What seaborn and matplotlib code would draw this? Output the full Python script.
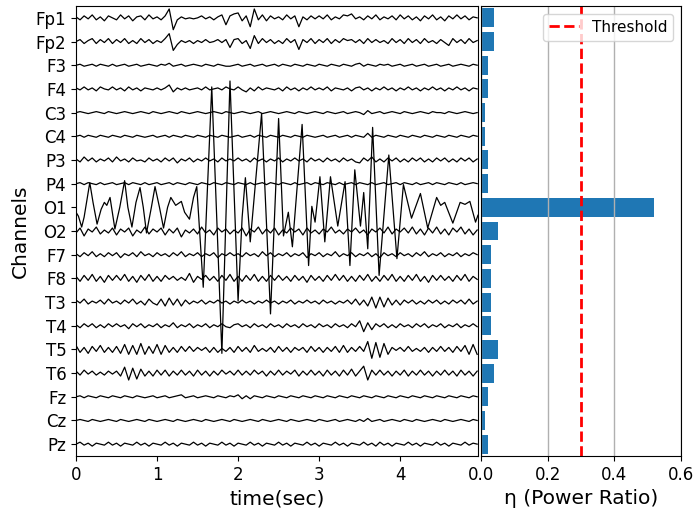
import numpy as np
import pandas as pd
import matplotlib
matplotlib.use("Agg")
import matplotlib.pyplot as plt
import seaborn as sns

# ---------------- data ----------------
channels = ["Fp1", "Fp2", "F3", "F4", "C3", "C4", "P3", "P4", "O1", "O2",
            "F7", "F8", "T3", "T4", "T5", "T6", "Fz", "Cz", "Pz"]
power_ratio = [0.04, 0.04, 0.02, 0.02, 0.012, 0.012, 0.02, 0.02, 0.52, 0.05,
               0.03, 0.03, 0.03, 0.03, 0.05, 0.04, 0.02, 0.012, 0.02]
threshold = 0.3
xticks_time = [0, 1, 2, 3, 4]
xticks_ratio = [0.0, 0.2, 0.4, 0.6]

sample_step = 0.05  # sec between samples of the regular traces

fp1 = [1,-2,2,-1,3,-2,1,-3,2,0, -2,3,-1,2,-3,1,2,-2,3,-1, 1,-2,2,9,-12,-2,1,-1,0,-1,
       0,2,-1,1,-2,1,3,-7,2,4, 5,-3,2,-9,9,-2,3,-3,2,-1, 1,-2,3,-1,2,-9,1,-2,2,-1,
       2,-1,3,-2,1,-1,3,2,4,-1, 1,-2,2,-1,3,-2,1,-1,2,-2, 3,-1,2,-2,1,-3,2,-1,3,-2,
       1,-3,2,-1,3,-1,2,-2,1,0]
fp2 = [0,2,-2,1,3,-2,2,-1,3,-2, 2,-1,3,-2,1,-2,3,-1,2,-2, 1,-1,3,8,-9,-3,1,-1,1,-2,
       1,-1,2,-1,0,2,-1,2,-6,2, 3,-2,1,-7,6,-2,3,-1,2,-2, 1,-2,3,-1,2,-8,2,-1,3,-2,
       2,-1,3,-2,2,-1,3,1,2,-1, 2,-2,3,-1,2,-1,1,-2,3,-1, 2,-2,3,-1,2,-2,3,-1,1,-2,
       2,-1,-4,3,-1,2,-2,3,-1,1]
f3 = [0,1,-1,0,1,-1,1,0,-1,1, -1,0,1,-1,0,1,-1,0,1,0, -1,1,0,2,-1,0,1,-1,0,1,
      0,-1,1,0,-1,1,0,-1,-1,0, 1,-1,0,1,-1,0,1,-1,0,1, -1,1,0,-1,1,0,-1,1,0,-1,
      1,0,-1,1,0,-1,1,0,-1,1, 2,-1,1,0,-1,1,0,1,-1,0, 1,-1,0,1,-1,0,1,-1,0,1,
      -1,0,1,-1,0,1,0,-1,1,0]
f4 = [1,-1,2,-1,1,-2,2,0,-1,2, -1,1,-2,2,-1,1,-2,1,0,-1, 1,-1,1,4,-3,1,-1,1,-1,0,
      1,-1,2,-1,0,1,-1,2,0,-1, 2,-1,-3,1,-2,2,-1,1,0,-1, 1,-2,2,-1,1,-2,1,-1,2,-1,
      1,-1,2,-2,1,0,-1,1,-2,1, 2,-1,1,-2,1,-1,2,-1,1,-2, 1,-1,2,-1,1,-2,1,-1,2,-1,
      1,-2,1,-1,2,-1,1,-2,1,0]
c3 = [0,1,0,-1,0,1,0,-1,1,0, -1,0,1,0,-1,0,1,0,-1,1, 0,-1,0,1,0,-1,1,0,-1,0,
      1,0,-1,0,1,0,-1,1,0,-1, 0,1,0,-1,0,1,-1,0,1,0, -1,0,1,0,-1,1,0,-1,0,1,
      0,-1,1,0,-1,0,1,-1,0,1, 0,-2,2,-1,0,1,-1,0,1,0, -1,1,0,-1,0,1,0,-1,1,0,
      0,-1,1,0,-1,0,1,0,-1,0]
c4 = [0,1,-1,1,0,-1,1,0,-1,1, 0,-1,1,0,-1,1,0,-1,0,1, -1,0,1,-1,1,0,-1,1,0,-1,
      1,0,-1,1,0,-1,1,0,-1,0, 1,-1,0,1,-1,1,0,-1,1,0, -1,1,0,-1,1,0,-1,1,0,-1,
      0,1,-1,0,1,-1,0,1,-1,1, 0,-1,3,-1,1,0,-1,1,0,-1, 1,0,-1,1,0,-1,1,0,-1,1,
      0,-1,1,0,-1,1,0,-1,1,0]
p3 = [1,-2,3,-1,2,-2,1,-1,2,-2, 3,-1,1,-2,2,-1,0,-2,2,-1, 1,-2,2,-1,2,-3,1,-1,2,-2,
      1,-1,2,-1,1,-2,2,-1,1,-1, 2,-1,1,-2,2,-1,1,-2,1,-1, 2,-2,1,-1,2,-1,1,-2,2,-1,
      1,-2,2,-1,1,-2,2,-1,1,-2, -3,2,-1,3,-2,1,-2,2,-1,2, -2,1,-2,2,-1,2,-2,1,-2,2,
      -1,2,-2,1,-2,2,-1,2,-2,1]
p4 = [0,1,-1,1,0,-1,1,-1,0,1, -1,0,1,-1,1,0,-1,1,-1,0, 1,-1,0,1,-1,1,0,-1,1,0,
      -1,1,0,-1,1,0,-1,1,0,-1, 1,0,-1,1,-1,0,1,-1,1,0, -1,1,0,-1,1,-1,0,1,-1,1,
      0,-1,1,0,-1,1,-1,0,1,-1, 1,0,-1,1,-1,0,1,-1,0,1, -1,1,0,-1,1,-1,0,1,-1,1,
      0,-1,1,0,-1,1,-1,0,1,0]
o2 = [-2,3,-5,2,-1,4,-3,1,-2,3, -4,2,-1,3,-5,1,-2,4,-3,2, -1,3,-4,2,-2,3,-6,1,-2,2,
      -3,4,-2,1,-4,3,-1,2,-3,1, -2,3,-5,2,-1,4,-3,2,-2,3, -4,1,-2,3,-1,2,-4,3,-2,1,
      -3,2,-1,4,-2,1,-3,2,-1,3, -2,1,-4,2,-1,3,-2,4,-3,2, -1,3,-2,4,-3,2,-4,3,-2,4,
      -3,2,-4,3,-1,4,-3,2,-4,1]
f7 = [1,-2,2,-1,3,-2,1,-2,2,-1, 2,-3,1,-1,2,-2,3,-1,1,-2, 2,-1,1,-2,2,-1,3,-2,1,-1,
      2,-2,1,-1,2,-3,1,-1,2,-1, 1,-2,2,-1,1,-2,3,-1,2,-2, 1,-1,2,-2,1,-1,2,-3,1,-1,
      2,-2,1,-1,3,-2,1,-1,2,-2, 1,-1,2,-2,1,-3,2,-1,1,-2, 2,-1,1,-2,2,-1,3,-2,1,-1,
      2,-2,1,-1,2,-2,1,-1,2,0]
f8 = [2,-3,3,-2,4,-3,2,-4,3,-2, 3,-2,4,-3,2,-4,3,-2,4,-3, 2,-3,3,-1,2,-2,1,-2,5,-4,
      2,-1,3,-2,2,-3,3,-2,4,-3, 2,-3,3,-2,4,-3,2,-3,3,-2, 3,-2,2,-3,3,-2,2,-4,3,-2,
      2,-3,3,-2,4,-2,3,-3,2,-3, 3,-2,4,-3,2,-3,3,-2,4,-3, 2,-3,3,-2,4,-3,2,-4,3,-2,
      3,-2,2,-3,3,-2,4,-3,2,-1]
t3 = [2,-1,3,-2,1,-1,2,-2,3,-1, 1,-2,2,-1,3,-2,1,-3,3,-1, -3,3,-4,4,-3,3,-4,2,-2,1,
      -1,2,-2,1,-1,2,-1,1,-2,1, -1,2,-1,1,-2,1,-1,2,-1,1, -2,1,-1,2,-2,1,-1,2,-1,1,
      -2,2,-1,1,-2,1,-1,2,-2,3, -3,2,-4,5,-6,5,-5,4,-3,2, -3,2,-1,2,-2,1,-2,2,-1,2,
      -2,1,-2,2,-1,2,-2,3,-2,1]
t4 = [1,-2,2,-1,2,-2,1,-2,2,-1, 2,-1,1,-3,2,-1,2,-2,1,-1, 2,-2,1,-1,3,-2,1,-1,2,-2,
      1,-1,2,-2,1,-1,2,-1,-2,1, 2,-1,1,-2,2,-1,1,-2,2,-1, 1,-2,2,-1,1,-2,2,-1,1,-2,
      2,-1,1,-2,2,-1,1,-2,2,-1, 5,-6,3,-4,2,-1,2,-2,1,-2, 2,-1,1,-2,2,-1,2,-2,1,-1,
      2,-2,1,-1,2,-2,1,-1,2,-1]
t5 = [4,-3,2,-4,3,-2,4,-3,2,-3, 3,-4,5,-5,4,-5,6,-5,3,-4, 5,-5,4,-3,2,-3,3,-2,3,-2,
      2,-1,2,-3,2,-3,1,-2,2,-3, 3,-2,2,-3,4,-2,1,-2,2,-3, 3,-2,2,-3,2,-1,2,-3,3,-2,
      2,-3,2,-2,3,-3,4,-3,2,-2, 3,-2,8,-9,7,-8,6,-5,2,-1, 2,-2,3,-2,1,-2,2,-3,2,-2,
      3,-2,2,-3,3,-2,4,-5,5,-5]
t6 = [2,-2,3,-1,2,-2,1,-2,2,-1, 2,-3,6,-7,5,-6,4,-3,2,-3, 3,-2,3,-3,2,-2,3,-2,2,-3,
      3,-2,2,-3,2,-2,3,-1,2,-2, 3,-2,2,-2,3,-1,2,-3,2,-2, 3,-2,2,-1,3,-3,2,-2,3,-2,
      2,-3,3,-2,2,-3,3,-2,4,-3, 2,7,-7,3,-2,3,-2,2,-3,2, -2,3,-3,2,-2,3,-2,2,-3,2,
      -2,3,-2,2,-3,3,-2,2,-3,2]
fz = [0,1,-1,1,0,-1,1,0,-1,1, 0,-1,1,0,-1,1,0,-1,0,1, -1,0,1,-1,0,1,2,-1,0,1,
      -1,0,1,0,-1,1,0,-1,1,0, 2,-2,1,-2,1,0,-1,1,0,-1, 1,0,-1,1,0,-1,1,0,-1,1,
      0,-1,1,0,-1,1,0,-1,1,0, -1,1,0,-1,1,0,-1,1,0,-1, 1,0,-1,1,0,-1,1,0,-1,1,
      0,-1,1,0,-1,1,0,-1,1,0]
cz = [0,1,0,-1,1,0,-1,0,1,0, -1,1,0,-1,0,1,0,-1,1,0, -1,0,1,0,-1,1,0,-1,0,1,
      0,-1,1,0,-1,0,1,0,-1,1, 0,-1,0,1,0,-1,1,0,-1,0, 1,0,-1,1,0,-1,0,1,0,-1,
      1,0,-1,0,1,-1,0,1,0,-1, 1,-1,2,-1,0,1,-1,0,1,0, -1,1,0,-1,1,0,-1,0,1,0,
      -1,1,0,-1,0,1,0,-1,1,0]
pz = [0,2,-1,1,-2,1,0,-1,2,-1, 1,-2,1,0,-1,2,-1,1,-2,1, 0,-1,2,-1,1,-2,1,0,-1,2,
      -1,1,-2,1,0,-1,2,-1,1,-2, 1,0,-1,2,-1,1,-2,1,0,-1, 2,-1,1,-2,1,0,-1,2,-1,1,
      -2,1,0,-1,2,-1,1,-2,1,0, -1,2,-1,1,-2,2,-1,1,-2,1, 0,-1,2,-1,1,-2,1,0,-1,2,
      -1,1,-2,1,0,-1,2,-1,1,0]

# O1: read at its peaks and troughs (time in sec, amplitude)
o1_t = [0.00, 0.03, 0.07, 0.10, 0.17, 0.21, 0.26, 0.31, 0.35, 0.38, 0.42, 0.48,
        0.54, 0.60, 0.64, 0.69, 0.74, 0.79, 0.83, 0.87, 0.93, 0.975, 1.03, 1.08,
        1.13, 1.17, 1.23, 1.30, 1.34, 1.40, 1.45, 1.49, 1.57, 1.675, 1.80, 1.90,
        2.00, 2.05, 2.09, 2.15, 2.29, 2.40, 2.50, 2.56, 2.62, 2.67, 2.79, 2.87,
        2.91, 2.95, 3.01, 3.07, 3.14, 3.23, 3.32, 3.38, 3.44, 3.51, 3.55, 3.60,
        3.66, 3.74, 3.86, 3.96, 4.04, 4.14, 4.25, 4.34, 4.45, 4.50, 4.55, 4.65,
        4.74, 4.80, 4.86, 4.93, 4.96]
o1_v = [-5, -9, -20, -10, 25, 5, -17, -2, 5, 2, 10, -22,
        0, 27, 0, -20, 5, 20, 0, -26, 0, 21, 0, -21,
        0, 10, 2, 6, -5, -12, 10, 21, -81, 122, -148, 128,
        -95, -10, 30, -35, 95, -108, 90, -29, -5, -40, 84, -59,
        1, -15, 31, -35, 31, -19, 26, -59, 38, -19, 15, -42,
        81, -69, 53, -52, 23, -11, 14, -21, 10, 2, 5, -16,
        5, 3, 6, -15, -8]

# ---------------- build long table ----------------
regular = {"Fp1": fp1, "Fp2": fp2, "F3": f3, "F4": f4, "C3": c3, "C4": c4,
           "P3": p3, "P4": p4, "O2": o2, "F7": f7, "F8": f8, "T3": t3,
           "T4": t4, "T5": t5, "T6": t6, "Fz": fz, "Cz": cz, "Pz": pz}
spacing = 24.0  # amplitude units per channel row
rows = []
for i, ch in enumerate(channels):
    if ch == "O1":
        tt, vv = np.array(o1_t), np.array(o1_v, dtype=float)
    else:
        vv = np.array(regular[ch], dtype=float)
        tt = np.arange(len(vv)) * sample_step
    rows.append(pd.DataFrame({"t": tt, "pos": i - vv / spacing, "ch": ch}))
df = pd.concat(rows, ignore_index=True)

# ---------------- figure ----------------
fig = plt.figure(figsize=(6.96, 5.15), dpi=100)
gs = fig.add_gridspec(1, 2, width_ratios=[2.01, 1], left=0.1092, right=0.9784,
                      bottom=0.1146, top=0.9883, wspace=0.01)
ax1 = fig.add_subplot(gs[0, 0])
ax2 = fig.add_subplot(gs[0, 1])

sns.lineplot(data=df, x="t", y="pos", hue="ch", hue_order=channels,
             palette=["black"] * len(channels), estimator=None, sort=False,
             legend=False, linewidth=0.9, ax=ax1)
ax1.set_xlim(0, 4.96)
ax1.set_ylim(len(channels) - 0.5, -0.5)
ax1.set_xticks(xticks_time)
ax1.set_xticklabels([str(v) for v in xticks_time])
ax1.set_yticks(range(len(channels)))
ax1.set_yticklabels(channels)
ax1.tick_params(labelsize=12)
ax1.set_xlabel("time(sec)", fontsize=14.5)
ax1.set_ylabel("Channels", fontsize=14.5)

bar_df = pd.DataFrame({"ch": channels, "ratio": power_ratio})
sns.barplot(data=bar_df, x="ratio", y="ch", order=channels, orient="h",
            color="#1f77b4", saturation=1, width=0.8, ax=ax2)
ax2.axvline(threshold, color="red", linestyle="--", linewidth=2, label="Threshold")
ax2.set_xlim(0, 0.6)
ax2.set_ylim(len(channels) - 0.5, -0.5)
ax2.set_xticks(xticks_ratio)
ax2.set_xticklabels([f"{v:.1f}" for v in xticks_ratio])
ax2.set_yticks([])
ax2.set_ylabel("")
ax2.grid(axis="x", color="#b0b0b0", linewidth=1)
ax2.tick_params(labelsize=12)
ax2.set_xlabel("η (Power Ratio)", fontsize=14.5)
ax2.legend(loc="upper right", fontsize=11)

fig.savefig("out.png", dpi=100)
